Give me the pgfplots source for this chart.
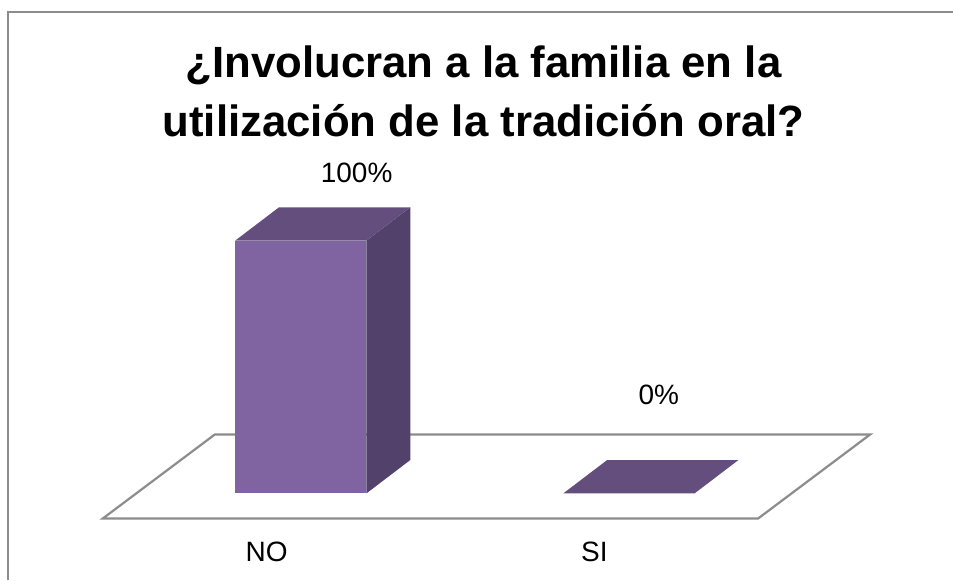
\documentclass[border=0pt]{standalone}
\usepackage{pgfplots}
\pgfplotsset{compat=1.18}
\usepackage{fontspec}
\setmainfont{Liberation Sans}
\definecolor{barfront}{HTML}{8064A2}
\definecolor{bartop}{HTML}{634E7D}
\definecolor{barside}{HTML}{52416A}
\definecolor{floorgray}{HTML}{8C8C8C}
\begin{document}
\begin{tikzpicture}
\begin{axis}[
  scale only axis,
  width=477pt, height=290.5pt,
  xmin=-0.9163, xmax=1.9878,
  ymin=-34.39, ymax=195.26,
  axis line style={draw=none},
  tick style={draw=none},
  ytick=\empty,
  xtick={-0.1035,0.895},
  xticklabels={NO,SI},
  xticklabel style={anchor=center, yshift=14.5pt, font=\fontsize{14}{16.8}\selectfont},
  clip=false,
]
% border (top and left)
\draw[floorgray, line width=1pt, line join=miter]
  (rel axis cs:0.00839,0) -- (rel axis cs:0.00839,0.97935) -- (rel axis cs:1,0.97935);
% floor
\addplot[fill=white, draw=floorgray, line width=1.1pt] coordinates
  {(-0.6027,-9.88) (1.3942,-9.88) (1.7350,23.32) (-0.2618,23.32)} -- cycle;
% NO bar (100%)
\addplot[fill=barside, draw=none] coordinates
  {(0.2,0) (0.334,13.24) (0.334,113.24) (0.2,100)} -- cycle;
\addplot[fill=bartop, draw=none] coordinates
  {(-0.2,100) (0.2,100) (0.334,113.24) (-0.066,113.24)} -- cycle;
\addplot[fill=barfront, draw=none] coordinates
  {(-0.2,0) (0.2,0) (0.2,100) (-0.2,100)} -- cycle;
% SI bar (0%)
\addplot[fill=bartop, draw=none] coordinates
  {(0.8,0) (1.2,0) (1.334,13.24) (0.934,13.24)} -- cycle;
% data labels
\addplot[draw=none, mark=none, nodes near coords, point meta=explicit symbolic,
  every node near coord/.append style={anchor=center, font=\fontsize{14}{16.8}\selectfont}]
  coordinates {(0.1705,126.9) [100\%] (1.0913,39.1) [0\%]};
% title
\node[align=center, font=\bfseries\fontsize{21.9}{29.5}\selectfont]
  at (rel axis cs:0.5073,0.8425) {¿Involucran a la familia en la\\utilización de la tradición oral?};
\end{axis}
\end{tikzpicture}
\end{document}
